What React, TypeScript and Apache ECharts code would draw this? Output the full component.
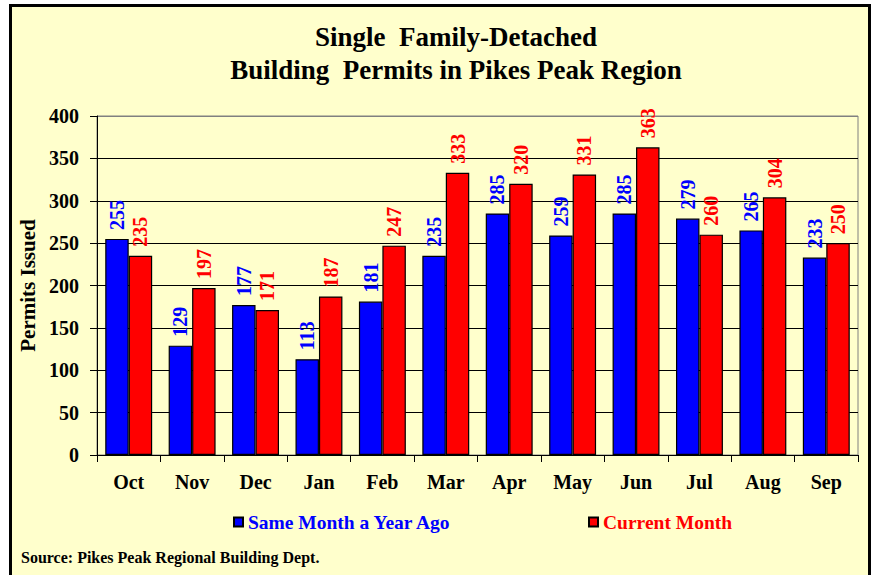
import React, { useEffect, useRef } from "react";
import * as echarts from "echarts";

const months = ["Oct", "Nov", "Dec", "Jan", "Feb", "Mar", "Apr", "May", "Jun", "Jul", "Aug", "Sep"];
const lastYear = [255, 129, 177, 113, 181, 235, 285, 259, 285, 279, 265, 233];
const currentMonth = [235, 197, 171, 187, 247, 333, 320, 331, 363, 260, 304, 250];
const titleLines = ["Single  Family-Detached", "Building  Permits in Pikes Peak Region"];
const sourceText = "Source: Pikes Peak Regional Building Dept.";

const FONT = "'Liberation Serif', 'Times New Roman', serif";
const BG = "#FFFFCC";

export default function App() {
  const ref = useRef<HTMLDivElement>(null);
  useEffect(() => {
    document.body.style.margin = "0";
    const chart = echarts.init(ref.current!, null, { renderer: "svg" });
    const labelFor = (color: string) => ({
      show: true,
      position: "top",
      rotate: 90,
      align: "left",
      verticalAlign: "middle",
      distance: 9,
      color,
      fontFamily: FONT,
      fontWeight: "bold",
      fontSize: 20,
    });
    chart.setOption({
      animation: false,
      backgroundColor: "#FFFFFF",
      graphic: [
        {
          type: "rect",
          z: -10,
          shape: { x: 10.5, y: 5.5, width: 859, height: 600 },
          style: { fill: BG, stroke: "#000000", lineWidth: 3 },
        },
        {
          type: "text",
          x: 456,
          y: 37,
          style: {
            text: titleLines[0],
            font: `bold 27px ${FONT}`,
            fill: "#000",
            textAlign: "center",
            textVerticalAlign: "middle",
          },
        },
        {
          type: "text",
          x: 456,
          y: 70,
          style: {
            text: titleLines[1],
            font: `bold 27px ${FONT}`,
            fill: "#000",
            textAlign: "center",
            textVerticalAlign: "middle",
          },
        },
        {
          type: "text",
          x: 21,
          y: 557,
          style: {
            text: sourceText,
            font: `bold 16px ${FONT}`,
            fill: "#000",
            textAlign: "left",
            textVerticalAlign: "middle",
          },
        },
      ],
      legend: [
        {
          left: 233,
          top: 512,
          padding: 0,
          itemWidth: 9,
          itemHeight: 9,
          icon: "rect",
          data: ["Same Month a Year Ago"],
          textStyle: { color: "#0000FF", fontFamily: FONT, fontWeight: "bold", fontSize: 19.5 },
        },
        {
          left: 588,
          top: 512,
          padding: 0,
          itemWidth: 9,
          itemHeight: 9,
          icon: "rect",
          data: ["Current Month"],
          textStyle: { color: "#FF0000", fontFamily: FONT, fontWeight: "bold", fontSize: 19.5 },
        },
      ],
      grid: {
        left: 97,
        top: 116,
        right: 16,
        bottom: 120,
        show: true,
        backgroundColor: BG,
        borderColor: "#808080",
        borderWidth: 1,
      },
      xAxis: {
        type: "category",
        data: months,
        axisLine: { show: true, lineStyle: { color: "#000", width: 1 } },
        axisTick: { show: true, length: 7, lineStyle: { color: "#000" } },
        axisLabel: { color: "#000", fontFamily: FONT, fontWeight: "bold", fontSize: 20, margin: 17 },
      },
      yAxis: {
        type: "value",
        min: 0,
        max: 400,
        interval: 50,
        name: "Permits Issued",
        nameLocation: "middle",
        nameRotate: 90,
        nameGap: 58,
        nameTextStyle: { color: "#000", fontFamily: FONT, fontWeight: "bold", fontSize: 21 },
        axisLine: { show: true, lineStyle: { color: "#000", width: 1 } },
        axisTick: { show: true, length: 7, lineStyle: { color: "#000" } },
        axisLabel: { color: "#000", fontFamily: FONT, fontWeight: "bold", fontSize: 20, margin: 18 },
        splitLine: {
          show: true,
          lineStyle: {
            color: ["#000", "#000", "#000", "#000", "#000", "#000", "#000", "#000", "#808080"],
            width: 1,
          },
        },
      },
      series: [
        {
          name: "Same Month a Year Ago",
          type: "bar",
          data: lastYear,
          barGap: "0%",
          barCategoryGap: "26%",
          itemStyle: { color: "#0000FF", borderColor: "#000", borderWidth: 1.2 },
          label: labelFor("#0000FF"),
        },
        {
          name: "Current Month",
          type: "bar",
          data: currentMonth,
          barGap: "0%",
          barCategoryGap: "26%",
          itemStyle: { color: "#FF0000", borderColor: "#000", borderWidth: 1.2 },
          label: labelFor("#FF0000"),
        },
      ],
    });
    return () => chart.dispose();
  }, []);
  return <div ref={ref} style={{ position: "fixed", left: 0, top: 0, width: 874, height: 575 }} />;
}
